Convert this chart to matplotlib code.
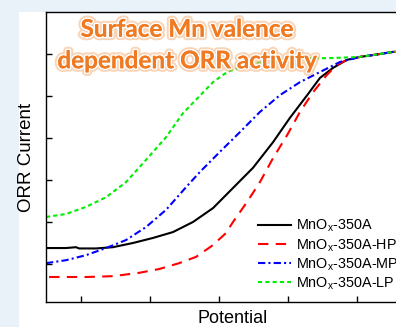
import matplotlib
matplotlib.use("Agg")
import matplotlib.pyplot as plt
import matplotlib.patheffects as pe
from matplotlib.patches import Rectangle

plt.rcParams['font.family'] = ['Liberation Sans', 'DejaVu Sans']
plt.rcParams['mathtext.default'] = 'regular'

# LSV curves (potential in V, current in mA)
pot_350a = [0.100, 0.158, 0.187, 0.196, 0.245, 0.294, 0.352, 0.410, 0.468, 0.526,
            0.584, 0.642, 0.700, 0.758, 0.807, 0.857, 0.894, 0.932, 0.972, 1.010,
            1.068, 1.106, 1.184]
cur_350a = [-4.62, -4.62, -4.60, -4.63, -4.63, -4.60, -4.50, -4.38, -4.24, -4.00,
            -3.67, -3.19, -2.71, -2.10, -1.52, -0.98, -0.57, -0.33, -0.14, -0.07,
            0.00, 0.05, 0.05]

pot_hp = [0.109, 0.216, 0.294, 0.370, 0.428, 0.486, 0.535, 0.584, 0.622, 0.642,
          0.683, 0.720, 0.758, 0.799, 0.836, 0.874, 0.914, 0.943, 0.972, 1.010,
          1.068, 1.106, 1.184]
cur_hp = [-5.31, -5.31, -5.29, -5.21, -5.12, -4.98, -4.83, -4.55, -4.26, -4.00,
          -3.52, -3.05, -2.48, -1.93, -1.38, -0.91, -0.50, -0.26, -0.14, -0.07,
          0.00, 0.05, 0.05]

pot_mp = [0.100, 0.158, 0.216, 0.274, 0.332, 0.390, 0.448, 0.506, 0.546, 0.604,
          0.662, 0.720, 0.778, 0.836, 0.894, 0.952, 1.010, 1.068, 1.106, 1.184]
cur_mp = [-4.98, -4.91, -4.79, -4.62, -4.43, -4.12, -3.71, -3.17, -2.81, -2.33,
          -1.86, -1.38, -0.98, -0.67, -0.43, -0.19, -0.07, 0.00, 0.05, 0.05]

pot_lp = [0.100, 0.158, 0.216, 0.274, 0.332, 0.390, 0.448, 0.497, 0.543, 0.584,
          0.625, 0.683, 0.758, 0.836, 0.914, 1.010, 1.068, 1.106, 1.184]
cur_lp = [-3.88, -3.81, -3.64, -3.41, -3.05, -2.52, -1.98, -1.41, -1.02, -0.67,
          -0.43, -0.26, -0.14, -0.10, -0.10, -0.07, 0.00, 0.05, 0.05]

labels = [r'MnO$_x$-350A', r'MnO$_x$-350A-HP', r'MnO$_x$-350A-MP', r'MnO$_x$-350A-LP']
xticks = [0.2, 0.4, 0.6, 0.8, 1.0]
yticks = [0, -1, -2, -3, -4, -5]

W, H = 396, 327
fig = plt.figure(figsize=(W / 100, H / 100), dpi=100)
fig.patch.set_facecolor('#e9f1f9')
# white card behind the plot
card = Rectangle((19 / W, 0), 1, 1 - 12 / H, transform=fig.transFigure,
                 facecolor='white', edgecolor='none', zorder=-10)
fig.patches.append(card)

ax = fig.add_axes([46 / W, 1 - 302 / H, (420 - 46) / W, (302 - 12) / H])
ax.set_zorder(1)
ax.set_facecolor('white')

ax.plot(pot_350a, cur_350a, color='black', lw=1.5, ls='-', label=labels[0])
ax.plot(pot_hp, cur_hp, color='#ff0000', lw=1.5, ls=(0, (5, 3.5)), label=labels[1])
ax.plot(pot_mp, cur_mp, color='#0000ff', lw=1.5, ls=(0, (3.5, 1.5, 1, 1.5)), label=labels[2])
ax.plot(pot_lp, cur_lp, color='#00ee00', lw=1.5, ls=(0, (2, 1.5)), label=labels[3])

ax.set_xlim(0.1, 1.184)
ax.set_ylim(-5.905, 1.0)
ax.set_xticks(xticks)
ax.set_yticks(yticks)
ax.tick_params(direction='in', length=4, width=1, labelbottom=False, labelleft=False)
for sp in ax.spines.values():
    sp.set_linewidth(1)

ax.set_xlabel('Potential', fontsize=13, labelpad=6)
ax.set_ylabel('ORR Current', fontsize=13.5, labelpad=8)

ax.legend(loc='upper left', bbox_to_anchor=(258 / W, 1 - 218 / H),
          bbox_transform=fig.transFigure, frameon=False, fontsize=10.4,
          handlelength=2.3, handletextpad=0.35, labelspacing=0.19,
          borderpad=0, borderaxespad=0)

glow = [pe.withStroke(linewidth=5, foreground='#f7b27a', alpha=0.55),
        pe.withStroke(linewidth=2.2, foreground='white'),
        pe.Normal()]
title = fig.text(187 / W, 1 - 45 / H, 'Surface Mn valence\ndependent ORR activity',
                 ha='center', va='center', fontsize=17.5, fontweight='bold', family='Lato',
                 color='#f07a22', linespacing=1.45, path_effects=glow)
title.set_zorder(5)

fig.savefig('out.png', dpi=100, facecolor=fig.get_facecolor())
